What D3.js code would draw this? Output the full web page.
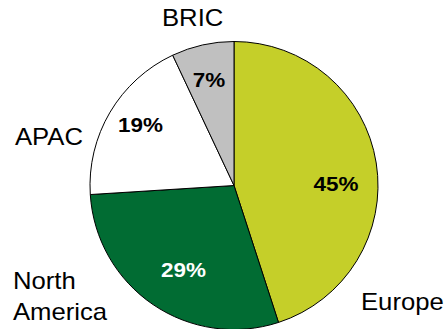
<!DOCTYPE html>
<html>
<head>
<meta charset="utf-8">
<script src="https://cdn.jsdelivr.net/npm/d3@7"></script>
<style>
  html, body { margin: 0; padding: 0; background: #fff; }
  svg { display: block; }
  text { font-family: "Liberation Sans", Arial, sans-serif; }
</style>
</head>
<body>
<svg id="chart" width="447" height="329"></svg>
<script>
// Regional share of sales (%)
const regions = ["Europe", "North America", "APAC", "BRIC"];
const shares = [45, 29, 19, 7];
const sliceColors = ["#c5cf29", "#016c33", "#ffffff", "#c0c0c0"];
const valueColors = ["#000000", "#ffffff", "#000000", "#000000"];

const width = 447, height = 329;
const cx = 234, cy = 185.5, radius = 144;

const svg = d3.select("#chart");
const g = svg.append("g").attr("transform", `translate(${cx},${cy})`);

const pie = d3.pie().sort(null).value(d => d.value);
const arc = d3.arc().innerRadius(0).outerRadius(radius);

const data = pie(regions.map((r, i) => ({ region: r, value: shares[i], i })));

g.selectAll("path.slice")
  .data(data)
  .join("path")
  .attr("class", "slice")
  .attr("d", arc)
  .attr("fill", d => sliceColors[d.data.i])
  .attr("stroke", "#000")
  .attr("stroke-width", 1);

// Value labels inside slices (page position of text centre / baseline)
const valuePos = [[336, 191], [183.5, 277], [140.5, 132], [209, 87]];
svg.selectAll("text.value")
  .data(data)
  .join("text")
  .attr("class", "value")
  .attr("transform", d => `translate(${valuePos[d.data.i][0]},${valuePos[d.data.i][1]}) scale(1.07,1)`)
  .attr("text-anchor", "middle")
  .attr("font-size", 21)
  .attr("font-weight", "bold")
  .attr("fill", d => valueColors[d.data.i])
  .text(d => d.data.value + "%");

// Category labels outside the pie
const catPos = [
  { lines: ["Europe"], x: 361, y: 310 },
  { lines: ["North", "America"], x: 13, y: 289 },
  { lines: ["APAC"], x: 15, y: 145 },
  { lines: ["BRIC"], x: 162, y: 26 }
];
const lineGap = 31;
data.forEach(d => {
  const p = catPos[d.data.i];
  const t = svg.append("text")
    .attr("class", "category")
    .attr("transform", `translate(${p.x},${p.y}) scale(1.07,1)`)
    .attr("text-anchor", "start")
    .attr("font-size", 24)
    .attr("fill", "#000");
  p.lines.forEach((ln, k) => {
    t.append("tspan").attr("x", 0).attr("y", k * lineGap).text(ln);
  });
});
</script>
</body>
</html>
